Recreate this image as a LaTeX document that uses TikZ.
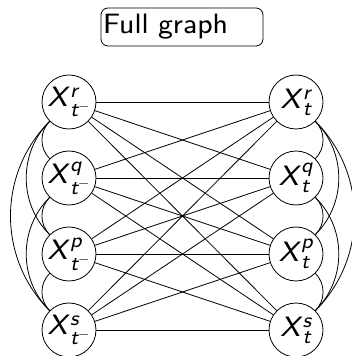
\documentclass[tikz,border=0pt]{standalone}
\usepackage{amsmath}
\usepackage{fontspec}
% small optical size of Latin Modern Sans: wider and heavier strokes
\setsansfont{lmsans8}[Extension=.otf, UprightFont=*-regular, ItalicFont=*-oblique]
\renewcommand{\familydefault}{\sfdefault}
% larger script sizes for the 28pt labels
\DeclareMathSizes{28}{28}{21}{15}
% node label: X with superscript and time subscript, all in slanted sans
\newcommand{\varlab}[2]{\textit{X}$^{\textit{#1}}_{#2}$}
\tikzset{
  var/.style={draw, circle, line width=0.8pt, inner sep=0pt, minimum size=54pt,
    font=\fontsize{28}{32}\selectfont},
  link/.style={line width=0.8pt},
  titlebox/.style={draw, rounded corners=7pt, line width=0.8pt,
    minimum width=162pt, minimum height=38pt, text width=158pt, inner xsep=2pt,
    align=left, font=\fontsize{28}{32}\selectfont}
}
\begin{document}
\begin{tikzpicture}[x=1pt,y=1pt]
\useasboundingbox (0,0) rectangle (352,356);
\node[titlebox] (title) at (182,329) {Full graph};
% previous time slice (left column)
\node[var] (Lr) at (69,254) {\varlab{r}{\textit{t}^{-}}};
\node[var] (Lq) at (69,178) {\varlab{q}{\textit{t}^{-}}};
\node[var] (Lp) at (69,102) {\varlab{p}{\textit{t}^{-}}};
\node[var] (Ls) at (69,26) {\varlab{s}{\textit{t}^{-}}};
% current time slice (right column)
\node[var] (Rr) at (296,254) {\varlab{r}{\textit{t}}};
\node[var] (Rq) at (296,178) {\varlab{q}{\textit{t}}};
\node[var] (Rp) at (296,102) {\varlab{p}{\textit{t}}};
\node[var] (Rs) at (296,26) {\varlab{s}{\textit{t}}};
% every left variable linked to every right variable
\foreach \a in {r,q,p,s}
  \foreach \b in {r,q,p,s}
    \draw[link] (L\a) -- (R\b);
% links within each slice
\foreach \a/\b in {r/q,q/p,p/s,r/p,q/s,r/s} {
  \draw[link] (L\a) to[bend right=45] (L\b);
  \draw[link] (R\a) to[bend left=45] (R\b);
}
\end{tikzpicture}
\end{document}
